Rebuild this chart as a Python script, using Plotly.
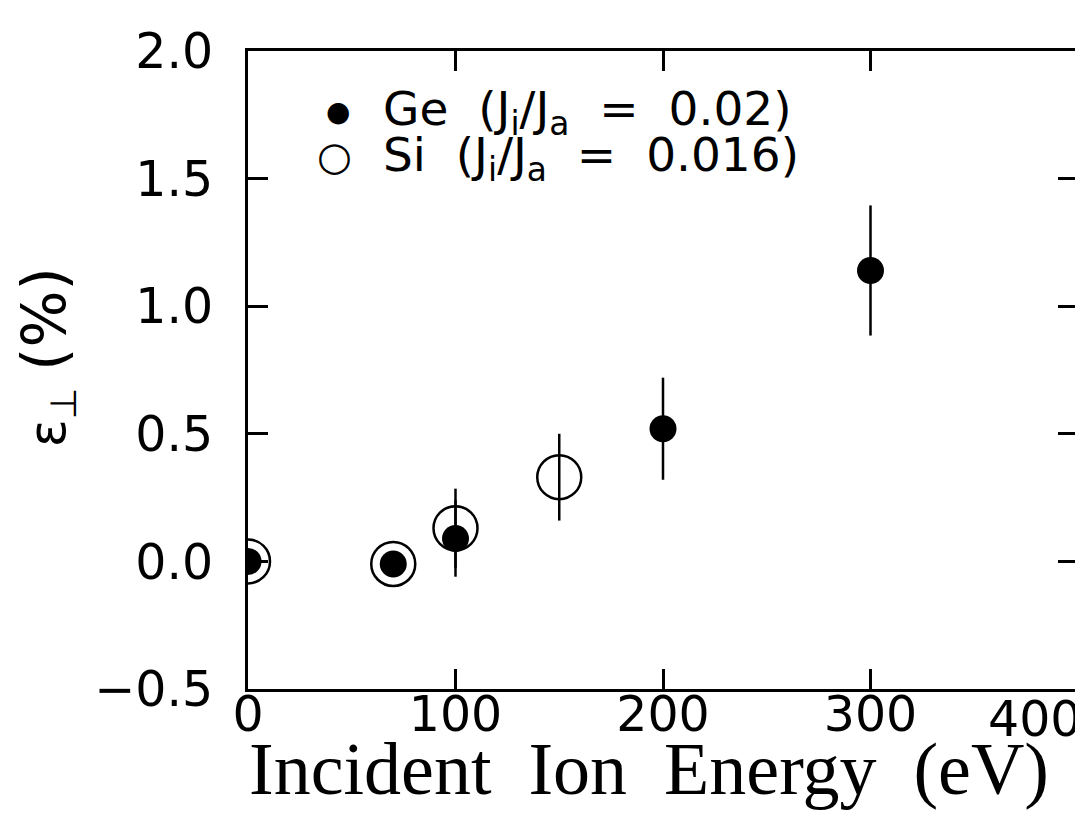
import plotly.graph_objects as go

# Data
ge_energy = [0, 70, 100, 200, 300]
ge_strain = [0.0, -0.01, 0.09, 0.52, 1.14]
ge_err = [0.0, 0.0, 0.15, 0.20, 0.255]

si_energy = [0, 70, 100, 150]
si_strain = [0.0, -0.01, 0.13, 0.33]
si_err = [0.0, 0.0, 0.155, 0.17]

x_ticks = [0, 100, 200, 300, 400]
y_ticks = [-0.5, 0.0, 0.5, 1.0, 1.5, 2.0]
y_ticktext = ["\u22120.5", "0.0", "0.5", "1.0", "1.5", "2.0"]

TICKFONT = dict(family="DejaVu Sans", size=49, color="black")

fig = go.Figure()

fig.add_trace(go.Scatter(
    x=si_energy, y=si_strain, mode="markers", name="Si",
    marker=dict(symbol="circle-open", size=44, color="black", line=dict(width=2.5, color="black")),
    error_y=dict(type="data", array=si_err, visible=True, color="black", thickness=2.5, width=0),
    showlegend=False,
))
fig.add_trace(go.Scatter(
    x=ge_energy, y=ge_strain, mode="markers", name="Ge",
    marker=dict(symbol="circle", size=27, color="black"),
    error_y=dict(type="data", array=ge_err, visible=True, color="black", thickness=2.5, width=0),
    showlegend=False,
))

axis_common = dict(
    showline=True, linecolor="black", linewidth=3, mirror="ticks",
    ticks="inside", ticklen=20, tickwidth=2.5, tickcolor="black",
    showgrid=False, zeroline=False,
    tickfont=TICKFONT,
)

# last x tick label sits at the right edge of the page, anchored to its right
x_ticktext = [str(v) for v in x_ticks[:-1]] + [""]

fig.update_layout(
    width=1083, height=826,
    margin=dict(l=240, r=10, t=43, b=145),
    paper_bgcolor="white", plot_bgcolor="white",
    xaxis=dict(range=[0, 400], tickvals=x_ticks, ticktext=x_ticktext,
               ticklabelstandoff=-20, **axis_common),
    yaxis=dict(range=[-0.5, 2.0], tickvals=y_ticks, ticktext=y_ticktext,
               ticklabelstandoff=22, **axis_common),
    annotations=[
        dict(text=str(x_ticks[-1]), xref="x", yref="paper", x=x_ticks[-1], y=0,
             xanchor="right", yanchor="top", yshift=0, xshift=6, showarrow=False,
             font=TICKFONT),
        dict(text="Incident  Ion  Energy  (eV)", xref="paper", yref="paper",
             x=0.5, xshift=-14, y=0, yshift=-80, xanchor="center", yanchor="middle", showarrow=False,
             font=dict(family="Liberation Serif", size=74, color="black")),
        dict(text="\u03b5<sub>\u22a5</sub> <span style='font-size:60px'>(%)</span>",
             xref="paper", yref="paper",
             x=0, xshift=-201, y=0.52, xanchor="center", yanchor="middle", showarrow=False,
             textangle=-90,
             font=dict(family="DejaVu Sans", size=52, color="black")),
        dict(text="\u25cf", xref="paper", yref="paper", x=0.108, y=0.905,
             xanchor="center", yanchor="middle", showarrow=False,
             font=dict(family="DejaVu Sans", size=28, color="black")),
        dict(text="\u25cb", xref="paper", yref="paper", x=0.104, y=0.836,
             xanchor="center", yanchor="middle", showarrow=False,
             font=dict(family="DejaVu Sans", size=40, color="black")),
        dict(text="Ge  (J<sub>i</sub>/J<sub>a</sub>  =  0.02)", xref="paper", yref="paper",
             x=0.16, y=0.905, xanchor="left", yanchor="middle", showarrow=False,
             font=dict(family="DejaVu Sans", size=47, color="black")),
        dict(text="Si  (J<sub>i</sub>/J<sub>a</sub>  =  0.016)", xref="paper", yref="paper",
             x=0.16, y=0.832, xanchor="left", yanchor="middle", showarrow=False,
             font=dict(family="DejaVu Sans", size=47, color="black")),
    ],
)

fig.write_html("out.html")
